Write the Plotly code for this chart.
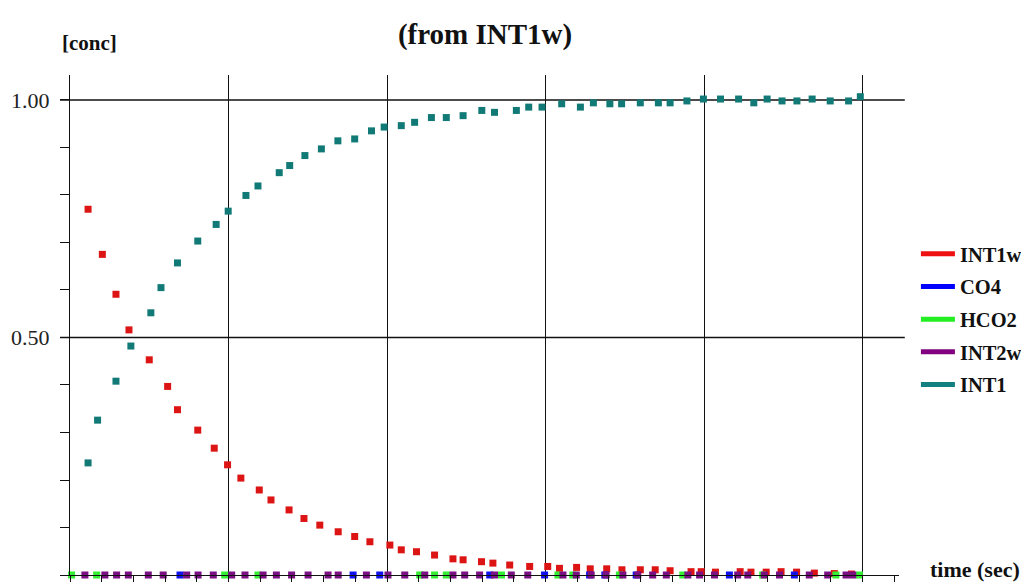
import plotly.graph_objects as go

# ---- data (time in sec, concentration) ----
int1w_t = [0.57, 1.02, 1.45, 1.86, 2.50, 3.08, 3.39, 4.03, 4.55, 4.97, 5.39, 5.97, 6.34,
           6.91, 7.38, 7.88, 8.46, 8.98, 9.46, 10.09, 10.45, 10.93, 11.50, 12.08, 12.40,
           12.98, 13.34, 13.87, 14.50, 15.07, 15.44, 15.98, 16.41, 16.93, 17.41, 17.99,
           18.46, 18.93, 19.59, 19.91, 20.36, 21.14, 21.48, 21.96, 22.43, 22.92, 23.48,
           24.11, 24.65]
int1w_c = [0.770, 0.675, 0.591, 0.516, 0.453, 0.397, 0.348, 0.305, 0.267, 0.232, 0.204,
           0.179, 0.158, 0.137, 0.119, 0.105, 0.091, 0.081, 0.070, 0.063, 0.053, 0.049,
           0.042, 0.034, 0.032, 0.028, 0.025, 0.021, 0.018, 0.018, 0.014, 0.016, 0.013,
           0.013, 0.011, 0.011, 0.011, 0.009, 0.007, 0.007, 0.006, 0.007, 0.006, 0.006,
           0.007, 0.006, 0.004, 0.003, 0.002]

int1_t = [0.57, 0.87, 1.45, 1.92, 2.55, 2.87, 3.39, 4.03, 4.61, 4.99, 5.55, 5.93, 6.60,
          6.93, 7.41, 7.93, 8.45, 8.98, 9.51, 9.91, 10.45, 10.87, 11.40, 11.87, 12.40,
          12.99, 13.39, 14.08, 14.47, 14.89, 15.51, 16.10, 16.51, 17.03, 17.40, 17.99,
          18.56, 18.93, 19.46, 19.98, 20.52, 21.09, 21.57, 21.99, 22.46, 22.93, 23.41,
          23.98, 24.56, 24.93]
int1_c = [0.236, 0.326, 0.408, 0.482, 0.552, 0.605, 0.657, 0.703, 0.738, 0.766, 0.799,
          0.819, 0.847, 0.862, 0.883, 0.897, 0.914, 0.918, 0.935, 0.943, 0.946, 0.953,
          0.963, 0.963, 0.967, 0.978, 0.974, 0.978, 0.985, 0.985, 0.992, 0.985, 0.994,
          0.992, 0.992, 0.994, 0.994, 0.994, 0.998, 1.002, 1.002, 1.002, 0.994, 1.002,
          0.998, 0.998, 1.002, 0.998, 0.998, 1.007]

co4_t = [3.47, 8.93, 9.77, 13.24, 14.97, 16.39, 16.87, 17.86, 20.80, 22.85]
co4_c = [0.0] * len(co4_t)

hco2_t = [0.05, 0.84, 4.88, 5.93, 11.03, 11.50, 11.87, 13.61, 15.39, 15.86, 17.33,
          19.33, 21.85, 24.16, 24.90]
hco2_c = [0.0] * len(hco2_t)

int2w_t = [0.47, 1.10, 1.47, 1.84, 2.47, 2.94, 3.68, 4.04, 4.52, 5.10, 5.52, 6.09, 6.51,
           6.99, 7.51, 8.14, 8.46, 9.35, 10.03, 10.56, 11.19, 12.08, 12.45, 12.92, 13.39,
           13.92, 14.44, 15.55, 15.97, 16.44, 16.91, 17.44, 17.91, 18.38, 18.81, 19.49,
           19.86, 20.33, 21.06, 21.38, 21.90, 22.38, 23.32, 23.90, 24.48, 24.69]
int2w_c = [0.0] * len(int2w_t)

y_tickvals = [0, 0.5, 1.0]
y_ticktext = ["0", "0.50", "1.00"]

series = [
    ("INT1w", int1w_t, int1w_c, "#dd1414", "#ee1111"),
    ("CO4", co4_t, co4_c, "#1010ee", "#0000ff"),
    ("HCO2", hco2_t, hco2_c, "#33ee33", "#22ee22"),
    ("INT2w", int2w_t, int2w_c, "#7a1084", "#800080"),
    ("INT1", int1_t, int1_c, "#127a76", "#128080"),
]

SERIF = "Liberation Serif"

fig = go.Figure()
for name, t, c, mcol, lcol in series:
    fig.add_trace(go.Scatter(
        x=t, y=c, mode="markers", name=name, showlegend=False,
        marker=dict(symbol="square", size=7, color=mcol, line=dict(width=0)),
        cliponaxis=False, legendgroup=name,
    ))
for name, t, c, mcol, lcol in series:
    fig.add_trace(go.Scatter(
        x=[None], y=[None], mode="lines", name=name, legendgroup=name,
        line=dict(color=lcol, width=5),
    ))

grid_col = "#111111"
# page body has an 8px margin; the figure is sized/offset to compensate
fig.update_layout(
    width=1021, height=574,
    margin=dict(l=62, r=130, t=67, b=7, autoexpand=False),
    paper_bgcolor="white", plot_bgcolor="white",
    font=dict(family=SERIF, color="#111111"),
    title=dict(text="(from INT1w)", x=0.4672, xanchor="center",
               y=0.955, yanchor="middle",
               font=dict(size=29, family=SERIF, color="#111", weight="bold")),
    xaxis=dict(
        range=[0, 26.15], showgrid=True, gridcolor=grid_col, gridwidth=1.3,
        dtick=5, tick0=0, showticklabels=False, zeroline=False, automargin=False,
        showline=True, linecolor=grid_col, linewidth=1.3,
        ticks="outside", ticklen=6, tickcolor=grid_col, tickwidth=1.3,
        minor=dict(dtick=1, ticks="outside", ticklen=6, tickcolor=grid_col, tickwidth=1.3,
                   showgrid=False),
    ),
    yaxis=dict(
        range=[0, 1.0526], showgrid=False, zeroline=False, automargin=False,
        showline=True, linecolor=grid_col, linewidth=1.3,
        tickvals=y_tickvals, ticktext=y_ticktext,
        ticks="outside", ticklen=9, tickcolor=grid_col, tickwidth=1.3,
        tickfont=dict(size=22, family=SERIF, color="#222"),
        minor=dict(dtick=0.1, ticks="outside", ticklen=9, tickcolor=grid_col, tickwidth=1.3),
        ticklabelstandoff=6,
    ),
    legend=dict(
        x=1.0204, y=0.682, xanchor="left", yanchor="top",
        font=dict(size=20.5, family=SERIF, color="#111", weight="bold"),
        traceorder="grouped", tracegroupgap=3,
        bgcolor="rgba(0,0,0,0)", itemwidth=34,
    ),
    showlegend=True,
)

for yv in y_tickvals[1:]:
    fig.add_shape(type="line", xref="paper", yref="y", x0=-0.012, x1=1.007, y0=yv, y1=yv,
                  line=dict(color=grid_col, width=1.3), layer="below")

fig.add_annotation(text="[conc]", xref="paper", yref="paper",
                   x=0.024, y=1.064, xanchor="center", yanchor="middle", showarrow=False,
                   font=dict(size=21, family=SERIF, color="#111", weight="bold"))
fig.add_annotation(text="time (sec)", xref="paper", yref="paper",
                   x=1.0917, y=0.012, xanchor="center", yanchor="middle", showarrow=False,
                   font=dict(size=22, family=SERIF, color="#111", weight="bold"))

fig.write_html("out.html")
